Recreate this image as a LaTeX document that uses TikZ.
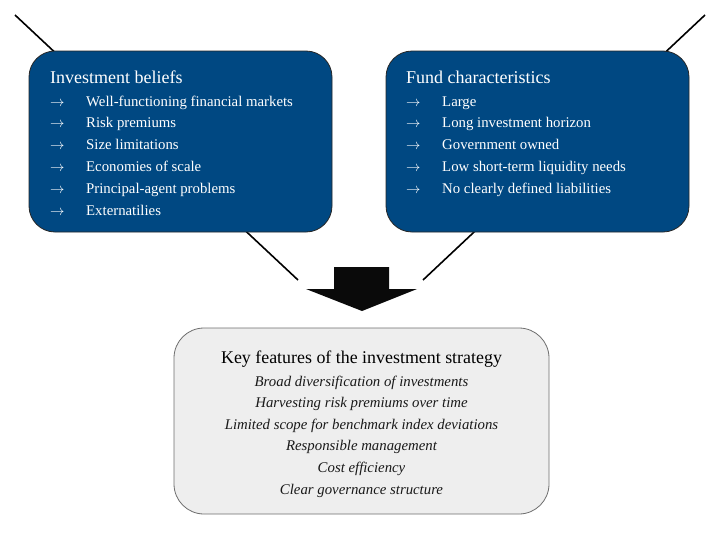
\documentclass[tikz,border=0pt]{standalone}
\usepackage{fontspec}
\setmainfont{Liberation Serif}
\definecolor{fundblue}{RGB}{0,72,130}
\definecolor{keygrey}{RGB}{238,238,238}
\definecolor{keyborder}{RGB}{110,110,110}
\begin{document}
\begin{tikzpicture}[x=1pt,y=-1pt,
  bluebox/.style={draw=black!85, line width=0.8pt, fill=fundblue, rounded corners=26pt, inner sep=0pt},
  greybox/.style={draw=keyborder, line width=0.8pt, fill=keygrey, rounded corners=30pt, inner sep=0pt},
  title/.style={text=white, anchor=base west, inner sep=0pt, font=\fontsize{18}{20}\selectfont},
  item/.style={text=white, anchor=base west, inner sep=0pt, font=\fontsize{14.8}{18}\selectfont},
  pointer/.style={text=white, anchor=base west, inner sep=0pt, font=\fontsize{13.5}{18}\selectfont},
  keytitle/.style={text=black, anchor=base, inner sep=0pt, font=\fontsize{17.9}{20}\selectfont},
  keyitem/.style={text=black!90, anchor=base, inner sep=0pt, font=\fontsize{14.8}{18}\itshape\selectfont},
  link/.style={draw=black, line width=1.6pt},
  bigarrow/.style={fill=black!96, draw=none}
]
\useasboundingbox (0,0) rectangle (719,554);
% connector ends
\coordinate (lt) at (15,15);
\coordinate (lb) at (298,280);
\coordinate (rt) at (705,15);
\coordinate (rb) at (423,280);
\draw[link] (lt) -- (lb);
\draw[link] (rt) -- (rb);
% boxes
\node[bluebox, minimum width=303pt, minimum height=181pt] (beliefs) at (180.5,141.5) {};
\node[bluebox, minimum width=303pt, minimum height=181pt] (fund) at (537.5,141.5) {};
\node[greybox, minimum width=375pt, minimum height=186pt] (key) at (361.5,421) {};
% arrow
\path[bigarrow] (334,267) -- (389,267) -- (389,289) -- (417,289) -- (362,311) -- (306,289) -- (334,289) -- cycle;
% left box text
\node[title] (bt) at (50,83) {Investment beliefs};
\foreach \t [count=\i] in {Well-functioning financial markets, Risk premiums, Size limitations, Economies of scale, Principal-agent problems, Externatilies}{
  \node[pointer] (ba\i) at (50,{106+(\i-1)*21.8}) {$\rightarrow$};
  \node[item] (bi\i) at (86,{106+(\i-1)*21.8}) {\t};
}
% right box text
\node[title] (ft) at (406,83) {Fund characteristics};
\foreach \t [count=\i] in {Large, Long investment horizon, Government owned, Low short-term liquidity needs, No clearly defined liabilities}{
  \node[pointer] (fa\i) at (406,{106+(\i-1)*21.8}) {$\rightarrow$};
  \node[item] (fi\i) at (442,{106+(\i-1)*21.8}) {\t};
}
% bottom box text
\node[keytitle] (kt) at (361.5,363) {Key features of the investment strategy};
\foreach \t [count=\i] in {Broad diversification of investments, Harvesting risk premiums over time, Limited scope for benchmark index deviations, Responsible management, Cost efficiency, Clear governance structure}{
  \node[keyitem] (ki\i) at (361.5,{386+(\i-1)*21.6}) {\t};
}
\end{tikzpicture}
\end{document}
